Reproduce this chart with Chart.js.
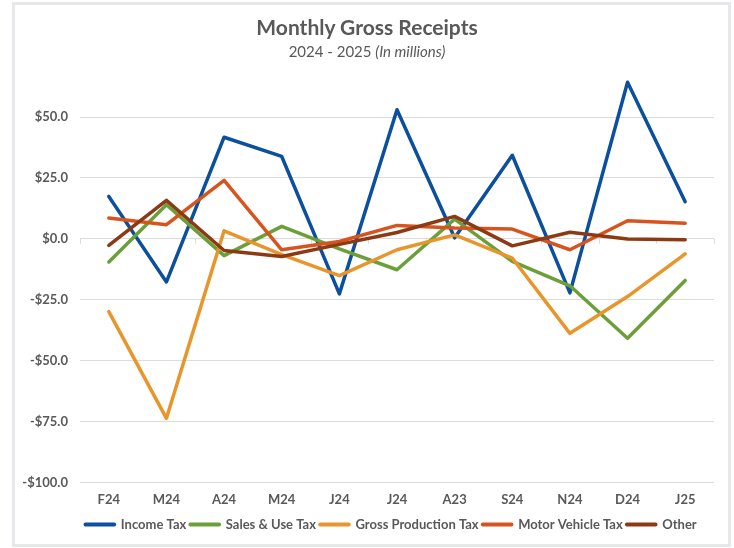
<!DOCTYPE html>
<html>
<head>
<meta charset="utf-8">
<script src="https://cdn.jsdelivr.net/npm/chart.js@4"></script>
<style>
  html, body { margin: 0; padding: 0; background: #fff; }
  body { width: 734px; height: 548px; position: relative; overflow: hidden; }
  #frame { position: absolute; left: 12px; top: 2px; width: 713px; height: 539px; border: 3px solid #e7e8ea; }
  #title { position: absolute; left: 0; width: 734px; top: 14px; text-align: center;
           font: 700 21px Lato, sans-serif; color: #595959; }
  #subtitle { position: absolute; left: 0; width: 734px; top: 42px; text-align: center;
              font: 400 15px Lato, sans-serif; color: #595959; }
  canvas { position: absolute; left: 0; top: 0; }
</style>
</head>
<body>
<div id="frame"></div>
<canvas id="chart" width="734" height="548"></canvas>
<div id="title">Monthly Gross Receipts</div>
<div id="subtitle">2024 - 2025 <i>(In millions)</i></div>
<script>
// ======= Data =======
const months = ["F24", "M24", "A24", "M24", "J24", "J24", "A23", "S24", "N24", "D24", "J25"];
const incomeTax = [17.4, -17.7, 41.7, 33.8, -22.6, 53.0, 0.4, 34.3, -22.2, 64.3, 15.2];
const salesUseTax = [-9.5, 14.0, -6.9, 5.1, -4.1, -12.7, 8.1, -9.3, -19.3, -40.8, -17.1];
const grossProductionTax = [-29.9, -73.7, 3.3, -6.5, -15.1, -4.5, 1.6, -7.9, -38.8, -23.7, -6.2];
const motorVehicleTax = [8.5, 5.8, 24.0, -4.5, -1.1, 5.5, 4.4, 4.0, -4.5, 7.4, 6.4];
const other = [-2.7, 15.8, -4.8, -7.3, -2.3, 2.6, 9.2, -2.9, 2.7, -0.1, -0.4];

const seriesNames = ["Income Tax", "Sales & Use Tax", "Gross Production Tax", "Motor Vehicle Tax", "Other"];
const seriesData = [incomeTax, salesUseTax, grossProductionTax, motorVehicleTax, other];
const seriesColors = ["#0b4f9e", "#6b9f3a", "#e8952b", "#d8541e", "#8b3a14"];

const gridColor = "#dcdcdc";
const textColor = "#595959";

// ======= Tick marks on the zero line =======
const zeroTicks = {
  id: "zeroTicks",
  beforeDatasetsDraw(chart) {
    const x = chart.scales.x, y = chart.scales.y;
    const y0 = y.getPixelForValue(0);
    const step = (x.right - x.left) / months.length;
    const ctx = chart.ctx;
    ctx.save();
    ctx.strokeStyle = gridColor;
    ctx.lineWidth = 1;
    for (let i = 0; i <= months.length; i++) {
      const px = Math.round(x.left + i * step) + 0.5;
      ctx.beginPath();
      ctx.moveTo(px, y0);
      ctx.lineTo(px, y0 + 5);
      ctx.stroke();
    }
    ctx.restore();
  }
};

// legend sits a bit right of centre in the original
const legendShift = {
  id: "legendShift",
  afterLayout(chart) {
    chart.legend.left += 34;
    chart.legend.right += 34;
  }
};

// ======= Chart =======
const datasets = seriesNames.map((name, i) => ({
  label: name,
  data: seriesData[i],
  borderColor: seriesColors[i],
  backgroundColor: seriesColors[i],
  borderWidth: 3.5,
  pointRadius: 0,
  tension: 0,
  borderCapStyle: "round",
  borderJoinStyle: "round",
  clip: false,
  order: seriesNames.length - i
}));

new Chart(document.getElementById("chart"), {
  type: "line",
  data: { labels: months, datasets: datasets },
  plugins: [zeroTicks, legendShift],
  options: {
    responsive: false,
    devicePixelRatio: 1,
    animation: false,
    layout: { padding: { left: 0, right: 20, top: 117, bottom: 7 } },
    plugins: {
      title: { display: false },
      tooltip: { enabled: false },
      legend: {
        position: "bottom",
        labels: {
          sort: (a, b) => a.datasetIndex - b.datasetIndex,
          boxWidth: 29,
          boxHeight: 0.5,
          padding: 4,
          color: textColor,
          font: { family: "Lato", size: 13, weight: "bold" }
        }
      }
    },
    scales: {
      x: {
        offset: true,
        afterFit: s => { s.height = s.height + 4; },
        grid: { display: false },
        border: { display: false },
        ticks: { color: textColor, padding: 2, font: { family: "Lato", size: 13, weight: "bold" } }
      },
      y: {
        min: -100,
        max: 50,
        afterFit: s => { s.width = 80; },
        grid: { color: gridColor, lineWidth: 1, drawTicks: false },
        border: { display: false },
        ticks: {
          stepSize: 25,
          padding: 12,
          color: textColor,
          font: { family: "Lato", size: 13, weight: "bold" },
          callback: v => (v < 0 ? "-$" : "$") + Math.abs(v).toFixed(1)
        }
      }
    }
  }
});
</script>
</body>
</html>
